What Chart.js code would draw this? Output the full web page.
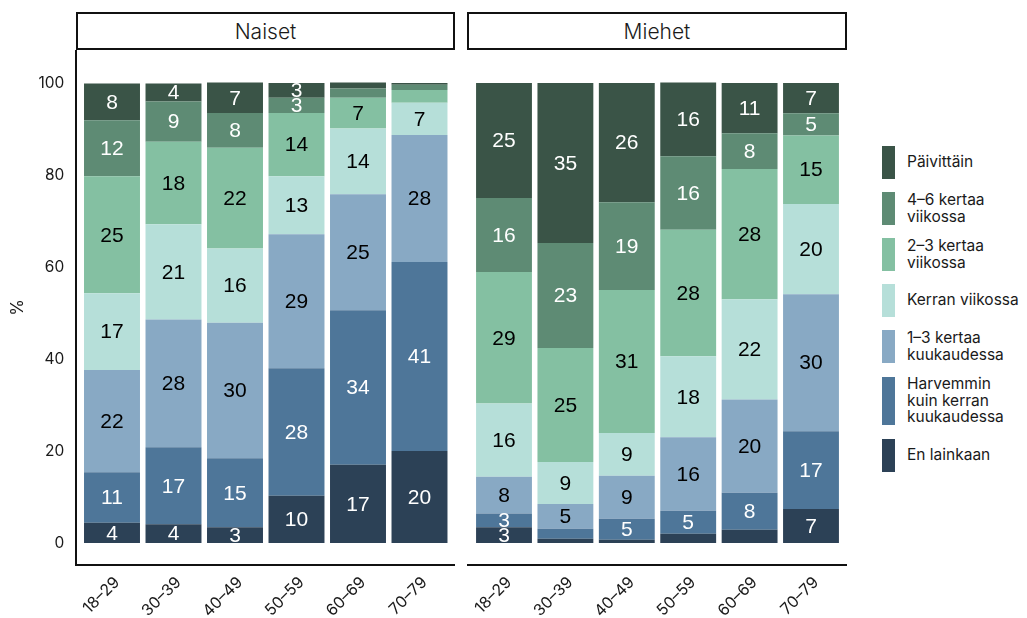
<!DOCTYPE html>
<html>
<head>
<meta charset="utf-8">
<script src="https://cdn.jsdelivr.net/npm/chart.js@4.4.1/dist/chart.umd.min.js"></script>
<style>
  html, body { margin: 0; padding: 0; background: #fff; }
  #wrap { position: relative; width: 1027px; height: 618px; overflow: hidden; font-family: Inter, "Open Sans", sans-serif; color: #1a1a1a; }
  canvas { position: absolute; top: 0; }
  #naisetCanvas { left: 0; }
  #miehetCanvas { left: 460px; }
  .strip { position: absolute; top: 12px; height: 38px; box-sizing: border-box; border: 2px solid #111; display: flex; align-items: center; justify-content: center; font-size: 21px; font-weight: 300; background: #fff; }
  #legend { position: absolute; left: 882px; top: 146px; }
  .item { display: flex; align-items: center; margin-bottom: 13px; }
  .swatch { width: 13px; flex: none; }
  .item span { margin-left: 12px; font-size: 15.5px; line-height: 16.5px; white-space: pre; }
</style>
</head>
<body>
<div id="wrap">
  <canvas id="naisetCanvas" width="460" height="618"></canvas>
  <canvas id="miehetCanvas" width="400" height="618"></canvas>
  <div class="strip" style="left:76px;width:379px;">Naiset</div>
  <div class="strip" style="left:467px;width:380px;">Miehet</div>
  <div id="legend"></div>
</div>
<script>
// age groups on the x axis
const ageGroups = ['18–29', '30–39', '40–49', '50–59', '60–69', '70–79'];

// answer categories, legend order (top of stack first)
const categories = [
  'Päivittäin',
  '4–6 kertaa\nviikossa',
  '2–3 kertaa\nviikossa',
  'Kerran viikossa',
  '1–3 kertaa\nkuukaudessa',
  'Harvemmin\nkuin kerran\nkuukaudessa',
  'En lainkaan',
];

const yTicks = [0, 20, 40, 60, 80, 100];

// Naiset, % per age group
const naisetPaivittain  = [8.0, 3.9, 6.6, 3.2, 1.3, 0.4];
const naisetViikko46    = [12.2, 8.8, 7.6, 3.3, 2.0, 1.1];
const naisetViikko23    = [25.4, 17.9, 21.9, 13.8, 6.7, 2.8];
const naisetKerranViik  = [16.7, 20.7, 16.1, 12.6, 14.3, 7.0];
const naisetKuukausi13  = [22.2, 27.8, 29.5, 29.1, 25.2, 27.6];
const naisetHarvemmin   = [11.0, 16.7, 15.0, 27.7, 33.6, 41.1];
const naisetEnLainkaan  = [4.4, 4.1, 3.4, 10.3, 17.0, 20.0];

// Miehet, % per age group
const miehetPaivittain  = [25.0, 34.8, 25.9, 16.0, 10.9, 6.6];
const miehetViikko46    = [16.1, 22.8, 19.1, 16.0, 7.8, 4.8];
const miehetViikko23    = [28.6, 24.8, 31.1, 27.5, 28.3, 14.9];
const miehetKerranViik  = [15.9, 9.1, 9.3, 17.6, 21.8, 19.6];
const miehetKuukausi13  = [8.0, 5.4, 9.3, 16.0, 20.3, 29.8];
const miehetHarvemmin   = [3.0, 2.2, 4.6, 5.0, 8.0, 16.9];
const miehetEnLainkaan  = [3.4, 0.9, 0.7, 2.0, 2.9, 7.4];

const naisetSeries = [naisetPaivittain, naisetViikko46, naisetViikko23, naisetKerranViik, naisetKuukausi13, naisetHarvemmin, naisetEnLainkaan];
const miehetSeries = [miehetPaivittain, miehetViikko46, miehetViikko23, miehetKerranViik, miehetKuukausi13, miehetHarvemmin, miehetEnLainkaan];

const COLORS = ['#3a5447', '#5e8b74', '#84c0a2', '#b6dfd9', '#88a9c4', '#4e7699', '#2c4156'];
const TEXT_COLORS = ['#fff', '#fff', '#000', '#000', '#000', '#fff', '#fff'];

Chart.defaults.font.family = 'Inter, "Open Sans", sans-serif';
Chart.defaults.color = '#1a1a1a';

// axis lines drawn slightly outside the bar area (like ggplot's expand)
const frame = {
  id: 'frame',
  afterDraw(chart, args, opts) {
    const { ctx, chartArea: a } = chart;
    ctx.save();
    ctx.strokeStyle = '#111';
    ctx.lineWidth = 2;
    ctx.beginPath();
    ctx.moveTo(a.left - opts.padL, a.bottom);
    ctx.lineTo(a.right + opts.padR, a.bottom);
    if (opts.yLine) {
      ctx.moveTo(a.left - opts.padL, a.top);
      ctx.lineTo(a.left - opts.padL, a.bottom + 1);
    }
    ctx.stroke();
    ctx.restore();
  },
};

const segmentLabels = {
  id: 'segmentLabels',
  afterDatasetsDraw(chart) {
    const ctx = chart.ctx;
    ctx.save();
    ctx.font = '21px "Liberation Sans", Arial, sans-serif';
    ctx.textAlign = 'center';
    ctx.textBaseline = 'middle';
    chart.data.datasets.forEach((ds, i) => {
      chart.getDatasetMeta(i).data.forEach((bar, j) => {
        const v = ds.data[j];
        if (v < 3) return;
        ctx.fillStyle = ds.labelColor;
        ctx.fillText(String(Math.round(v)), bar.x, (bar.y + bar.base) / 2 + 1);
      });
    });
    ctx.restore();
  },
};

function buildDatasets(series) {
  return categories.map((c, i) => ({
    label: c,
    data: series[i],
    backgroundColor: COLORS[i],
    labelColor: TEXT_COLORS[i],
    borderWidth: 0,
    barPercentage: 0.91,
    categoryPercentage: 1,
  })).reverse();
}

function renderPanel(id, series, showY, pad, frameOpts) {
  return new Chart(document.getElementById(id), {
    type: 'bar',
    data: { labels: ageGroups, datasets: buildDatasets(series) },
    options: {
      responsive: false,
      animation: false,
      layout: { padding: pad },
      plugins: {
        legend: { display: false },
        tooltip: { enabled: false },
        frame: frameOpts,
      },
      scales: {
        x: {
          stacked: true,
          grid: { display: false },
          border: { display: false },
          ticks: { font: { size: 16 }, maxRotation: 45, minRotation: 45, padding: 0, labelOffset: 5 },
          afterFit: (s) => { s.height = 53; },
        },
        y: {
          display: showY,
          stacked: true,
          min: -4.78,
          max: 107.17,
          grid: { display: false },
          border: { display: false },
          afterBuildTicks: (s) => { s.ticks = yTicks.map((v) => ({ value: v })); },
          ticks: { font: { size: 15.5 }, padding: 9 },
          title: { display: true, text: '%', font: { size: 17 }, padding: { top: 8, bottom: 0 } },
          afterFit: (s) => { if (showY) s.width = 81.25; },
        },
      },
    },
    plugins: [frame, segmentLabels],
  });
}

renderPanel('naisetCanvas', naisetSeries, true,
  { top: 50, right: 9.75, left: 0, bottom: 0 },
  { padL: 5.25, padR: 4.75, yLine: true });

renderPanel('miehetCanvas', miehetSeries, false,
  { top: 50, right: 18.3, left: 13.3, bottom: 0 },
  { padL: 6.3, padR: 5.3, yLine: false });

// legend
const legend = document.getElementById('legend');
categories.forEach((c, i) => {
  const lines = c.split('\n').length;
  const item = document.createElement('div');
  item.className = 'item';
  const sw = document.createElement('div');
  sw.className = 'swatch';
  sw.style.background = COLORS[i];
  sw.style.height = Math.max(33, lines * 16) + 'px';
  const txt = document.createElement('span');
  txt.textContent = c;
  item.appendChild(sw);
  item.appendChild(txt);
  legend.appendChild(item);
});
</script>
</body>
</html>
